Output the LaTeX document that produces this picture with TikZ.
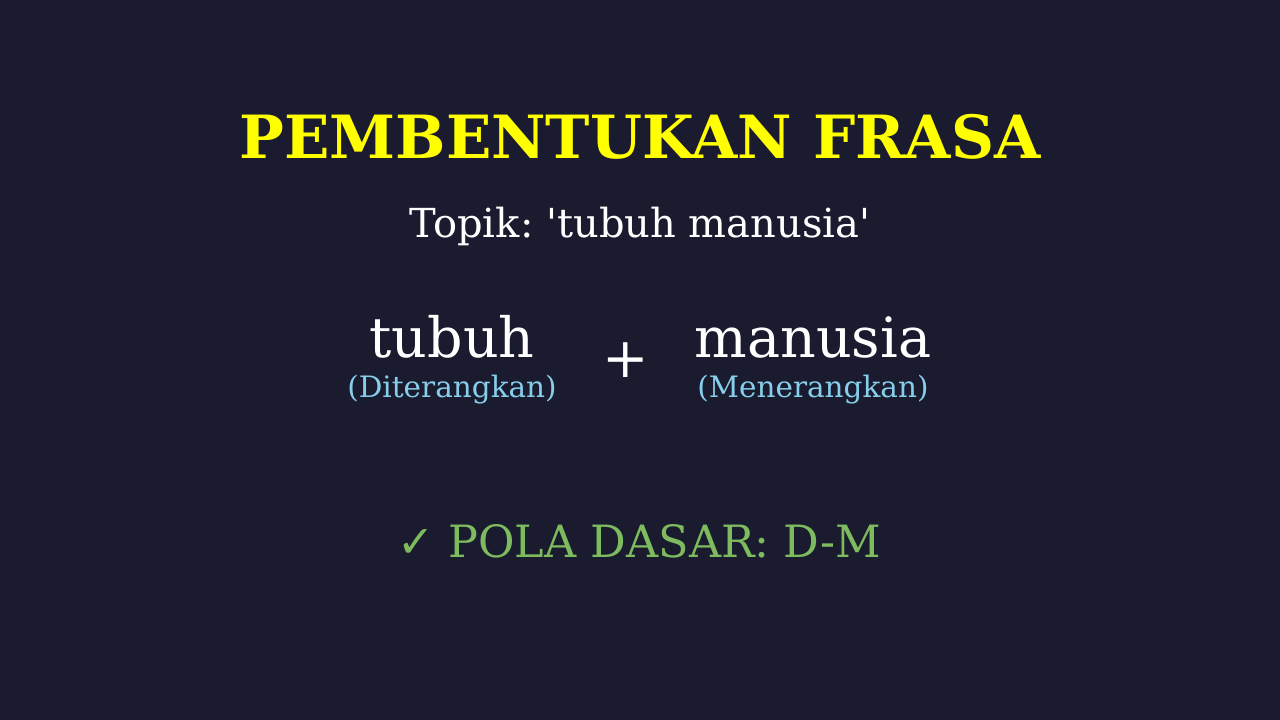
\documentclass[tikz,border=0pt]{standalone}
\usepackage{fontspec}
\setmainfont{DejaVu Serif}[Ligatures=TeXOff]
\newfontfamily\symfont{DejaVu Sans}
\frenchspacing
\definecolor{bgnight}{HTML}{1A1B2E}
\definecolor{titleyellow}{HTML}{FFFF00}
\definecolor{rolesky}{HTML}{87CEEB}
\definecolor{polagreen}{HTML}{7DBB5E}
\begin{document}
\begin{tikzpicture}[
    x=1pt,y=-1pt,
    title/.style={text=titleyellow,font=\fontsize{59.6}{62}\selectfont\bfseries,anchor=base},
    topic/.style={text=white,font=\fontsize{40}{42}\selectfont,anchor=base},
    word/.style={text=white,font=\fontsize{55.5}{58}\selectfont,anchor=base},
    role/.style={text=rolesky,font=\fontsize{29.5}{32}\selectfont,anchor=base},
    pattern/.style={text=polagreen,font=\fontsize{44.5}{46}\selectfont,anchor=base},
  ]
  \fill[bgnight] (0,0) rectangle (1280,720);
  \node[title] (T) at (640,158) {PEMBENTUKAN FRASA};
  \node[topic] (Tp) at (640,237) {Topik: 'tubuh manusia'};
  \node[word] (W1) at (452,357) {tubuh};
  \node[role] (R1) at (452,397) {(Diterangkan)};
  \node[word,anchor=center] (P) at (626,360) {+};
  \node[word] (W2) at (813,357) {manusia};
  \node[role] (R2) at (813,397) {(Menerangkan)};
  \node[pattern] (D) at (639,557) {{\symfont ✓} POLA DASAR: D-M};
\end{tikzpicture}
\end{document}
